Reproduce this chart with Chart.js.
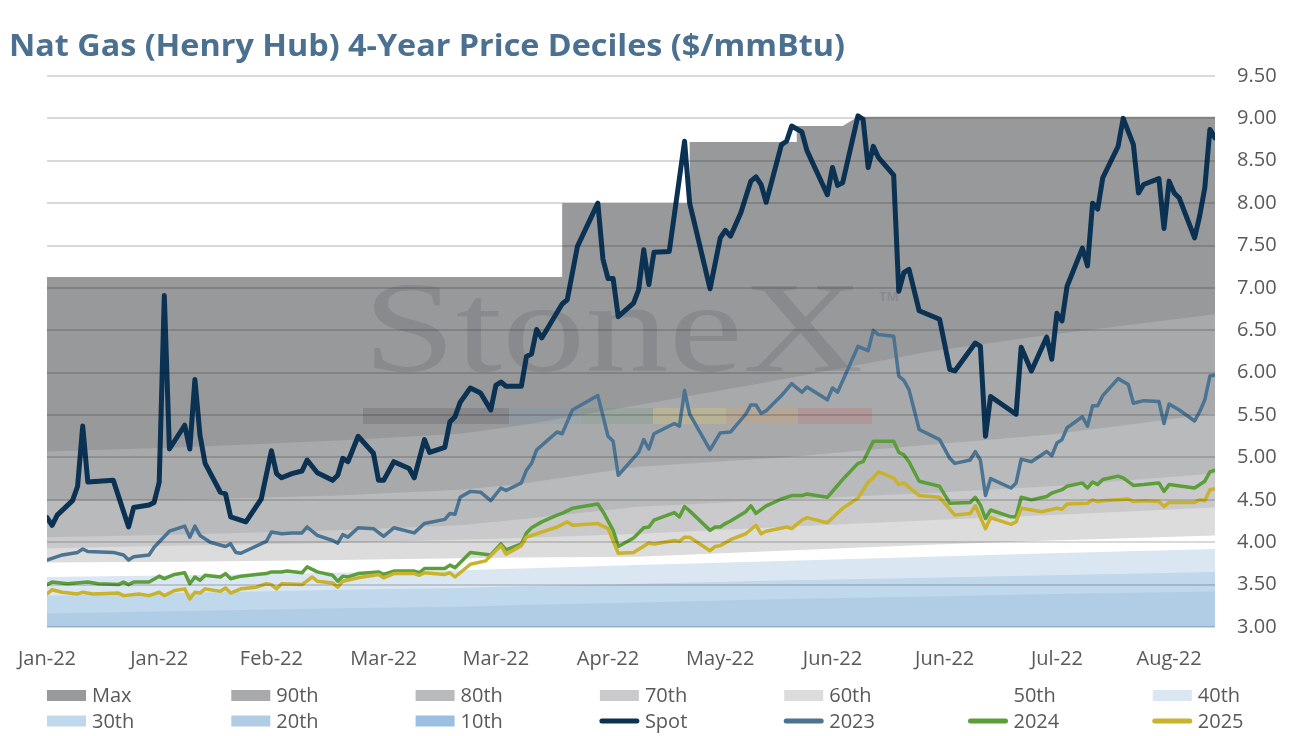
<!DOCTYPE html>
<html>
<head>
<meta charset="utf-8">
<title>Nat Gas (Henry Hub) 4-Year Price Deciles</title>
<script src="https://cdn.jsdelivr.net/npm/chart.js@4.4.1/dist/chart.umd.min.js"></script>
<style>
    html, body { margin: 0; padding: 0; background: #ffffff; }
    #wrap { position: relative; width: 1291px; height: 736px; }
</style>
</head>
<body>
<div id="wrap"><canvas id="decile-chart"></canvas></div>
<script>
// x values are calendar days counted from 1 Jan 2022
const tickStep = 22;
const tickLabels = ['Jan-22', 'Jan-22', 'Feb-22', 'Mar-22', 'Mar-22', 'Apr-22', 'May-22', 'Jun-22', 'Jun-22', 'Jul-22', 'Aug-22'];
const lastDay = 229;

// 4-year decile bands
const maxDays = [0, 101, 101, 126, 126, 147, 147, 156, 159, 229];
const maxValues = [7.13, 7.13, 8.00, 8.00, 8.72, 8.72, 8.91, 8.91, 9.02, 9.02];

const bandDays = [0, 27, 57, 81, 93, 116, 144, 173, 197, 229];
const p90 = [5.07, 5.12, 5.20, 5.28, 5.38, 5.62, 5.92, 6.25, 6.45, 6.69];
const p80 = [4.49, 4.50, 4.55, 4.62, 4.69, 4.89, 5.00, 5.15, 5.27, 5.52];
const p70 = [4.06, 4.09, 4.14, 4.20, 4.27, 4.42, 4.50, 4.58, 4.66, 4.81];
const p60 = [3.93, 3.96, 3.99, 4.03, 4.05, 4.10, 4.18, 4.26, 4.32, 4.41];
const p50 = [3.76, 3.77, 3.79, 3.81, 3.82, 3.83, 3.90, 3.97, 4.02, 4.08];
const p40 = [3.59, 3.61, 3.64, 3.67, 3.69, 3.73, 3.78, 3.83, 3.87, 3.92];
const p30 = [3.37, 3.40, 3.44, 3.46, 3.48, 3.51, 3.55, 3.58, 3.61, 3.65];
const p20 = [3.16, 3.19, 3.22, 3.24, 3.26, 3.29, 3.33, 3.36, 3.39, 3.42];
const p10 = [2.88, 2.89, 2.90, 2.91, 2.91, 2.92, 2.93, 2.94, 2.95, 2.96];

// Spot
const spotDays = [0, 1, 2, 5, 6, 7, 8, 13, 16, 17, 20, 21, 22, 23, 24, 27, 28, 29, 30, 31,
    34, 35, 36, 39, 42, 44, 45, 46, 48, 50, 51, 53, 56, 57, 58, 59, 61, 64, 65, 66,
    68, 71, 72, 74, 75, 78, 79, 80, 81, 83, 85, 87, 88, 89, 90, 93, 94, 95, 96, 97,
    101, 102, 104, 108, 109, 110, 111, 112, 115, 116, 117, 118, 119, 122, 125, 126, 130, 132, 133, 134,
    136, 138, 139, 140, 141, 144, 145, 146, 148, 149, 153, 154, 155, 156, 159, 160, 161, 162, 163, 166,
    167, 168, 169, 171, 175, 177, 178, 182, 183, 184, 185, 190, 191, 193, 196, 197, 198, 199, 200, 203,
    204, 205, 206, 207, 210, 211, 213, 214, 215, 218, 219, 220, 221, 222, 225, 226, 227, 228, 229];
const spotValues = [4.29, 4.20, 4.32, 4.49, 4.66, 5.37, 4.71, 4.73, 4.18, 4.41, 4.44, 4.47, 4.71, 6.91, 5.10, 5.38, 5.10, 5.92, 5.26, 4.93,
    4.59, 4.57, 4.30, 4.24, 4.51, 5.08, 4.81, 4.76, 4.81, 4.84, 4.97, 4.82, 4.73, 4.79, 4.99, 4.95, 5.25, 5.05, 4.73, 4.73,
    4.95, 4.87, 4.76, 5.21, 5.06, 5.12, 5.42, 5.48, 5.65, 5.82, 5.76, 5.56, 5.85, 5.89, 5.84, 5.84, 6.19, 6.22, 6.51, 6.41,
    6.81, 6.86, 7.49, 8.00, 7.34, 7.11, 7.11, 6.66, 6.82, 6.98, 7.45, 7.04, 7.42, 7.43, 8.73, 8.00, 6.99, 7.59, 7.68, 7.61,
    7.88, 8.26, 8.31, 8.22, 8.01, 8.69, 8.73, 8.91, 8.84, 8.62, 8.10, 8.42, 8.21, 8.24, 9.03, 8.99, 8.42, 8.67, 8.54, 8.33,
    6.96, 7.18, 7.22, 6.73, 6.63, 6.04, 6.02, 6.35, 6.31, 5.25, 5.72, 5.51, 6.30, 6.02, 6.42, 6.16, 6.70, 6.61, 7.02, 7.47,
    7.26, 8.00, 7.93, 8.30, 8.67, 9.00, 8.69, 8.12, 8.22, 8.29, 7.70, 8.26, 8.12, 8.06, 7.59, 7.85, 8.18, 8.87, 8.77];

// 2023 strip
const cal23Days = [0, 3, 6, 7, 8, 13, 15, 16, 17, 20, 21, 24, 27, 28, 29, 30, 32, 35, 36, 37,
    38, 43, 44, 46, 48, 50, 51, 53, 56, 57, 58, 59, 61, 64, 66, 68, 72, 74, 78, 79,
    80, 81, 83, 85, 87, 89, 90, 93, 94, 95, 96, 100, 101, 103, 108, 110, 111, 112, 116, 117,
    118, 119, 123, 124, 125, 126, 130, 132, 134, 137, 138, 139, 140, 141, 144, 146, 148, 149, 153, 154,
    155, 159, 161, 162, 163, 166, 167, 168, 169, 171, 175, 177, 178, 181, 182, 183, 184, 185, 189, 190,
    191, 193, 196, 197, 198, 199, 200, 203, 204, 205, 206, 207, 210, 212, 213, 215, 218, 219, 220, 222,
    225, 226, 227, 228, 229];
const cal23Values = [3.79, 3.85, 3.88, 3.92, 3.89, 3.88, 3.85, 3.79, 3.83, 3.85, 3.94, 4.13, 4.19, 4.06, 4.19, 4.08, 4.00, 3.95, 3.98, 3.88,
    3.87, 4.01, 4.12, 4.10, 4.11, 4.11, 4.18, 4.08, 4.02, 3.99, 4.09, 4.06, 4.17, 4.16, 4.07, 4.17, 4.11, 4.22, 4.27, 4.34,
    4.33, 4.53, 4.60, 4.59, 4.49, 4.64, 4.61, 4.70, 4.85, 4.93, 5.09, 5.30, 5.28, 5.56, 5.73, 5.25, 5.19, 4.79, 5.06, 5.21,
    5.10, 5.28, 5.40, 5.37, 5.79, 5.51, 5.09, 5.29, 5.30, 5.51, 5.62, 5.62, 5.52, 5.55, 5.73, 5.87, 5.77, 5.83, 5.68, 5.82,
    5.77, 6.31, 6.26, 6.50, 6.45, 6.43, 5.96, 5.91, 5.80, 5.33, 5.21, 4.99, 4.93, 4.97, 5.07, 4.97, 4.55, 4.75, 4.64, 4.70,
    4.98, 4.95, 5.07, 5.02, 5.17, 5.21, 5.35, 5.48, 5.37, 5.61, 5.61, 5.73, 5.93, 5.86, 5.64, 5.67, 5.66, 5.40, 5.63, 5.56,
    5.43, 5.54, 5.68, 5.96, 5.97];

// 2024 strip
const cal24Days = [0, 1, 4, 8, 10, 14, 15, 16, 17, 20, 22, 23, 25, 27, 28, 29, 30, 31, 34, 35,
    36, 38, 41, 43, 44, 46, 47, 50, 51, 53, 56, 57, 58, 59, 61, 65, 66, 68, 72, 73,
    74, 78, 79, 80, 83, 87, 89, 90, 93, 94, 95, 97, 100, 101, 103, 108, 109, 111, 112, 115,
    117, 118, 119, 123, 124, 125, 126, 130, 131, 132, 133, 134, 137, 138, 139, 141, 144, 146, 148, 149,
    153, 156, 159, 160, 162, 166, 167, 168, 169, 171, 175, 177, 181, 182, 183, 184, 185, 189, 190, 191,
    193, 196, 197, 199, 200, 203, 204, 205, 206, 207, 210, 211, 213, 215, 218, 219, 220, 225, 227, 228,
    229];
const cal24Values = [3.50, 3.53, 3.51, 3.53, 3.51, 3.50, 3.53, 3.50, 3.53, 3.53, 3.60, 3.57, 3.62, 3.64, 3.51, 3.59, 3.55, 3.61, 3.59, 3.63,
    3.57, 3.60, 3.62, 3.63, 3.65, 3.65, 3.66, 3.64, 3.71, 3.65, 3.61, 3.54, 3.60, 3.59, 3.63, 3.65, 3.62, 3.66, 3.66, 3.64,
    3.69, 3.69, 3.73, 3.70, 3.88, 3.85, 3.98, 3.91, 3.98, 4.11, 4.17, 4.24, 4.32, 4.34, 4.40, 4.45, 4.36, 4.14, 3.95, 4.05,
    4.17, 4.18, 4.26, 4.35, 4.30, 4.42, 4.37, 4.14, 4.18, 4.18, 4.22, 4.25, 4.36, 4.43, 4.34, 4.43, 4.51, 4.55, 4.55, 4.57,
    4.53, 4.74, 4.93, 4.95, 5.19, 5.19, 5.06, 5.03, 4.95, 4.72, 4.66, 4.46, 4.47, 4.53, 4.44, 4.28, 4.38, 4.30, 4.30, 4.53,
    4.50, 4.54, 4.58, 4.62, 4.66, 4.70, 4.64, 4.71, 4.68, 4.74, 4.78, 4.76, 4.67, 4.68, 4.70, 4.60, 4.68, 4.64, 4.72, 4.83,
    4.85];

// 2025 strip
const cal25Days = [0, 1, 3, 6, 7, 9, 14, 15, 18, 20, 22, 23, 25, 27, 28, 29, 30, 31, 34, 35,
    36, 38, 41, 43, 44, 45, 46, 50, 52, 53, 56, 57, 58, 61, 65, 66, 68, 72, 73, 74,
    78, 79, 80, 83, 86, 89, 90, 93, 94, 96, 98, 100, 102, 103, 108, 110, 112, 115, 118, 119,
    123, 124, 125, 126, 130, 131, 132, 134, 137, 139, 140, 141, 145, 146, 148, 149, 153, 156, 159, 161,
    162, 163, 166, 167, 168, 171, 175, 178, 181, 182, 184, 185, 189, 190, 191, 195, 198, 199, 200, 204,
    205, 206, 207, 212, 213, 215, 218, 219, 220, 225, 226, 227, 228, 229];
const cal25Values = [3.39, 3.44, 3.41, 3.39, 3.41, 3.39, 3.40, 3.37, 3.39, 3.37, 3.41, 3.37, 3.43, 3.45, 3.33, 3.41, 3.40, 3.45, 3.42, 3.46,
    3.40, 3.45, 3.47, 3.51, 3.50, 3.45, 3.51, 3.50, 3.59, 3.54, 3.52, 3.47, 3.54, 3.58, 3.62, 3.58, 3.63, 3.63, 3.61, 3.64,
    3.62, 3.64, 3.59, 3.74, 3.78, 3.96, 3.86, 3.96, 4.06, 4.10, 4.14, 4.18, 4.24, 4.20, 4.22, 4.16, 3.87, 3.88, 3.99, 3.98,
    4.02, 4.01, 4.06, 4.06, 3.90, 3.95, 3.96, 4.03, 4.10, 4.20, 4.10, 4.13, 4.18, 4.16, 4.26, 4.29, 4.23, 4.40, 4.52, 4.71,
    4.76, 4.83, 4.76, 4.68, 4.70, 4.55, 4.53, 4.32, 4.34, 4.43, 4.16, 4.29, 4.21, 4.24, 4.40, 4.36, 4.40, 4.39, 4.45, 4.46,
    4.50, 4.48, 4.49, 4.51, 4.48, 4.49, 4.48, 4.42, 4.47, 4.47, 4.50, 4.49, 4.62, 4.63];

const TITLE = 'Nat Gas (Henry Hub) 4-Year Price Deciles ($/mmBtu)';
const TEXT_GREY = '#595959';

function toPoints(days, values) {
    return days.map((d, i) => ({ x: d, y: values[i] }));
}

// Bands are drawn as "fill to bottom" areas, Max at the back
const bandSeries = [
    { label: 'Max',  days: maxDays,  values: maxValues, color: '#98999b' },
    { label: '90th', days: bandDays, values: p90, color: '#a8a9ab' },
    { label: '80th', days: bandDays, values: p80, color: '#b9babc' },
    { label: '70th', days: bandDays, values: p70, color: '#cacacc' },
    { label: '60th', days: bandDays, values: p60, color: '#dcdcdc' },
    { label: '50th', days: bandDays, values: p50, color: '#ffffff' },
    { label: '40th', days: bandDays, values: p40, color: '#dae6f2' },
    { label: '30th', days: bandDays, values: p30, color: '#c0d8eb' },
    { label: '20th', days: bandDays, values: p20, color: '#b1cde5' },
    { label: '10th', days: bandDays, values: p10, color: '#9bbfe0' }
];
const lineSeries = [
    { label: 'Spot', days: spotDays,  values: spotValues,  color: '#0b3253', width: 5 },
    { label: '2023', days: cal23Days, values: cal23Values, color: '#4b7392', width: 3.5 },
    { label: '2024', days: cal24Days, values: cal24Values, color: '#5b9e3a', width: 3.5 },
    { label: '2025', days: cal25Days, values: cal25Values, color: '#c9b22c', width: 3.5 }
];

const datasets = [];
bandSeries.forEach(b => {
    datasets.push({
        label: b.label,
        data: toPoints(b.days, b.values),
        backgroundColor: b.color,
        borderColor: 'rgba(0,0,0,0)',
        borderWidth: 0,
        fill: 'start',
        pointRadius: 0
    });
});
lineSeries.forEach(s => {
    datasets.push({
        label: s.label,
        data: toPoints(s.days, s.values),
        borderColor: s.color,
        backgroundColor: s.color,
        borderWidth: s.width,
        borderJoinStyle: 'round',
        borderCapStyle: 'round',
        fill: false,
        pointRadius: 0
    });
});
// later series sit on top (lower order = drawn later)
datasets.forEach((ds, i) => { ds.order = datasets.length - 1 - i; });

// Title in the top-left corner, stretched to the width it has in the original
const titlePlugin = {
    id: 'cornerTitle',
    afterDraw(chart) {
        const ctx = chart.ctx;
        ctx.save();
        ctx.font = 'bold 30px "Open Sans"';
        ctx.fillStyle = '#4b7090';
        ctx.textBaseline = 'alphabetic';
        const w = ctx.measureText(TITLE).width;
        ctx.translate(9, 56);
        ctx.scale(836 / w, 1);
        ctx.fillText(TITLE, 0, 0);
        ctx.restore();
    }
};

// Faint StoneX watermark between the bands and the price lines
const watermarkPlugin = {
    id: 'watermark',
    afterDatasetDraw(chart, args) {
        if (args.index !== bandSeries.length - 1) return;
        const ctx = chart.ctx;
        const a = chart.chartArea;
        const x0 = a.left + 316;
        const base = a.top + 295;
        ctx.save();
        ctx.fillStyle = 'rgba(100,102,108,0.28)';
        ctx.font = '130px "Liberation Serif"';
        const w = ctx.measureText('StoneX').width;
        ctx.save();
        ctx.translate(x0, base);
        ctx.scale(500 / w, 1);
        ctx.fillText('StoneX', 0, 0);
        ctx.restore();
        ctx.font = 'bold 13px "Open Sans"';
        ctx.fillText('TM', x0 + 516, base - 70);
        const segs = [
            [0, 146, 'rgba(95,97,103,0.30)'],
            [146, 218, 'rgba(120,150,180,0.22)'],
            [218, 290, 'rgba(110,150,120,0.22)'],
            [290, 363, 'rgba(225,200,100,0.28)'],
            [363, 435, 'rgba(225,160,90,0.26)'],
            [435, 509, 'rgba(200,100,110,0.26)']
        ];
        segs.forEach(s => {
            ctx.fillStyle = s[2];
            ctx.fillRect(x0 + s[0], a.top + 332, s[1] - s[0], 16);
        });
        ctx.restore();
    }
};

// Legend laid out on a 7-column grid under the axis
const legendPlugin = {
    id: 'gridLegend',
    afterDraw(chart) {
        const ctx = chart.ctx;
        const a = chart.chartArea;
        const colW = 184.3;
        const rowY = [a.bottom + 68.5, a.bottom + 94];
        ctx.save();
        ctx.font = '20px "Open Sans"';
        ctx.textBaseline = 'middle';
        chart.data.datasets.forEach((ds, i) => {
            const x = a.left + (i % 7) * colW;
            const y = rowY[Math.floor(i / 7)];
            if (ds.fill) {
                ctx.fillStyle = ds.backgroundColor;
                ctx.fillRect(x, y - 5.5, 39, 11);
            } else {
                ctx.strokeStyle = ds.borderColor;
                ctx.lineWidth = 5;
                ctx.lineCap = 'round';
                ctx.beginPath();
                ctx.moveTo(x + 2, y);
                ctx.lineTo(x + 37, y);
                ctx.stroke();
            }
            ctx.fillStyle = TEXT_GREY;
            ctx.fillText(ds.label, x + 45, y + 1);
        });
        ctx.restore();
    }
};

const ctx = document.getElementById('decile-chart').getContext('2d');
const chart = new Chart(ctx, {
    type: 'line',
    data: { datasets: datasets },
    plugins: [titlePlugin, watermarkPlugin, legendPlugin],
    options: {
        responsive: true,
        maintainAspectRatio: false,
        animation: false,
        events: [],
        layout: { padding: { left: 47, right: 14, top: 76, bottom: 59 } },
        elements: { line: { tension: 0 }, point: { radius: 0 } },
        plugins: {
            legend: { display: false },
            tooltip: { enabled: false },
            title: { display: false }
        },
        scales: {
            x: {
                type: 'linear',
                min: 0,
                max: lastDay,
                grid: { display: false },
                border: { display: false },
                ticks: {
                    stepSize: tickStep,
                    includeBounds: false,
                    autoSkip: false,
                    maxRotation: 0,
                    padding: 12,
                    color: TEXT_GREY,
                    font: { family: 'Open Sans', size: 20 },
                    callback: (v) => tickLabels[Math.round(v / tickStep)] || ''
                },
                afterFit: (scale) => { scale.height = 50; }
            },
            y: {
                position: 'right',
                min: 3,
                max: 9.5,
                border: { display: false },
                grid: { color: 'rgba(0,0,0,0.15)', lineWidth: 2, drawTicks: false, z: 1 },
                ticks: {
                    stepSize: 0.5,
                    padding: 22,
                    color: TEXT_GREY,
                    font: { family: 'Open Sans', size: 20 },
                    callback: (v) => v.toFixed(2)
                },
                afterFit: (scale) => { scale.width = 62; }
            }
        }
    }
});
</script>
</body>
</html>
